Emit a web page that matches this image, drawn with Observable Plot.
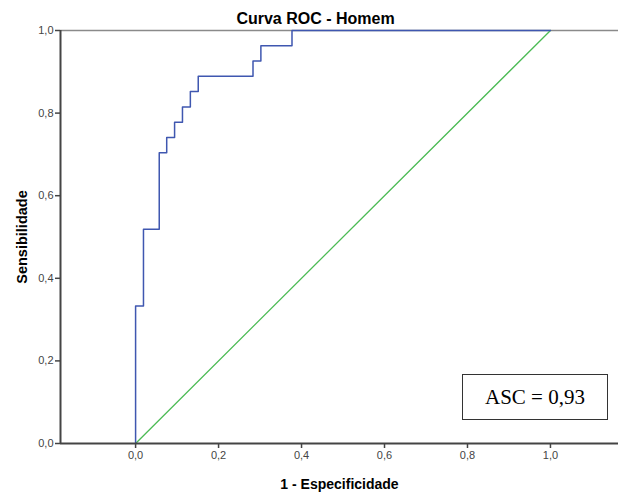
<!DOCTYPE html>
<html><head><meta charset="utf-8">
<script src="https://cdn.jsdelivr.net/npm/d3@7"></script>
<script src="https://cdn.jsdelivr.net/npm/@observablehq/plot@0.6"></script>
<style>
body{margin:0;background:#fff;}
#wrap{position:relative;width:618px;height:502px;font-family:"Liberation Sans",Arial,sans-serif;}
#wrap svg{position:absolute;left:0;top:0;}
#asc{position:absolute;left:462px;top:374px;width:146px;height:46px;border:1px solid #333;box-sizing:border-box;font-family:"Liberation Serif","Times New Roman",serif;font-size:21px;display:flex;align-items:center;justify-content:center;color:#000;background:#fff;}
</style></head>
<body><div id="wrap"></div>
<script>
const title = "Curva ROC - Homem";
const xLabel = "1 - Especificidade";
const yLabel = "Sensibilidade";
const aucLabel = "ASC = 0,93";
// ROC curve corner points (1 - specificity, sensitivity)
const fpr = [0, 0, 0.019, 0.057, 0.075, 0.094, 0.113, 0.132, 0.151, 0.283, 0.302, 0.377, 1];
const tpr = [0, 0.333, 0.519, 0.704, 0.741, 0.778, 0.815, 0.852, 0.889, 0.926, 0.963, 1, 1];
// reference diagonal
const refX = [0, 1];
const refY = [0, 1];
const xTicks = [0, 0.2, 0.4, 0.6, 0.8, 1.0];
const yTicks = [0, 0.2, 0.4, 0.6, 0.8, 1.0];
const xDomain = [-0.181, 1.164];
const yDomain = [0, 1];

const roc = fpr.map((x, i) => ({x, y: tpr[i]}));
const ref = refX.map((x, i) => ({x, y: refY[i]}));
const fmt = d => d.toFixed(1).replace(".", ",");

const chart = Plot.plot({
  width: 618,
  height: 502,
  marginLeft: 60,
  marginRight: 0,
  marginTop: 30,
  marginBottom: 59,
  style: {fontFamily: '"Liberation Sans", Arial, sans-serif', background: "transparent"},
  x: {domain: xDomain},
  y: {domain: yDomain},
  marks: [
    Plot.axisX({ticks: xTicks, tickFormat: fmt, tickSize: 5, tickPadding: 3, fontSize: 11, color: "#444", label: null, stroke: "#444", strokeWidth: 1.5}),
    Plot.axisY({ticks: yTicks, tickFormat: fmt, tickSize: 5, tickPadding: 2, fontSize: 11, color: "#444", label: null, stroke: "#444", strokeWidth: 1.5}),
    Plot.ruleY([yDomain[1]], {stroke: "#8a8a8a", strokeWidth: 1.6}),
    Plot.line(ref, {x: "x", y: "y", stroke: "#4cbb55", strokeWidth: 1.3}),
    Plot.line(roc, {x: "x", y: "y", curve: "step-after", stroke: "#3f57b0", strokeWidth: 1.5}),
    Plot.ruleY([yDomain[0]], {stroke: "#444", strokeWidth: 2}),
    Plot.ruleX([xDomain[0]], {stroke: "#444", strokeWidth: 2}),
    Plot.text([title], {frameAnchor: "top", dx: -24, dy: -18, fontSize: 16, fontWeight: "bold", fill: "#000"}),
    Plot.text([xLabel], {frameAnchor: "bottom", dy: 45, fontSize: 14, fontWeight: "bold", fill: "#000"}),
    Plot.text([yLabel], {frameAnchor: "left", textAnchor: "middle", dx: -38, rotate: -90, fontSize: 14.5, fontWeight: "bold", fill: "#000"})
  ]
});
const wrap = document.getElementById("wrap");
wrap.appendChild(chart);
const box = document.createElement("div");
box.id = "asc";
box.textContent = aucLabel;
wrap.appendChild(box);
</script>
</body></html>
